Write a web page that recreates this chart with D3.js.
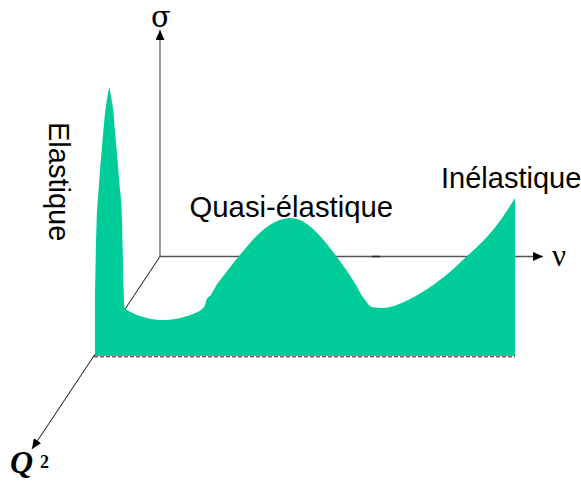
<!DOCTYPE html>
<html><head><meta charset="utf-8">
<script src="https://cdn.jsdelivr.net/npm/d3@7"></script>
<style>html,body{margin:0;padding:0;background:#fff;overflow:hidden}svg{display:block}text{font-family:"Liberation Sans",Arial,sans-serif;fill:#000}</style>
</head><body>
<script>
const nu = [0,0.4,0.8,1.2,1.6,2.4,3.0,3.4,3.8,4.4,4.8,5.3,5.8,6.4,6.6,6.8,7.0,9.0,12.4,16.2,20.2,23.3,25.5,26.2,26.6,27.6,28.8,30.2,34.5,40,44,46.4,48.8,52.9,57.6,61.4,64.3,65.9,68.6,70.2,75,80.5,84.5,88.6,93.3,97.1,100];
const sigma = [23.5,50.7,60.8,69.4,76.9,90.7,97,100,97,90.7,83.2,74.3,64.6,51.9,39.6,25.7,18.3,16.0,14.2,13.4,14.2,15.7,17.5,19.0,21.2,22.8,26.1,29.1,37.7,47,50.7,51.5,50.7,45.9,36.9,28.4,20.9,18.3,17.9,18.3,21.3,26.5,31.3,37.3,44.4,51.9,59];
const labels = ["Elastique","Quasi-élastique","Inélastique"];
const axisNames = ["σ","ν","Q","2"];

const W=581,H=481;
const x=d3.scaleLinear().domain([0,100]).range([95,515]);
const y=d3.scaleLinear().domain([0,100]).range([356,88]);
const svg=d3.select("body").append("svg").attr("width",W).attr("height",H);

const defs=svg.append("defs");
defs.append("marker").attr("id","arrow").attr("viewBox","0 0 10 9").attr("refX",10).attr("refY",4.5)
  .attr("markerUnits","userSpaceOnUse").attr("markerWidth",10).attr("markerHeight",9).attr("orient","auto")
  .append("path").attr("d","M0,0L10,4.5L0,9Z").attr("fill","#000");

// axes
const ox=160,oy=256.5;
svg.append("line").attr("x1",ox).attr("y1",oy).attr("x2",ox).attr("y2",30).attr("stroke","#666").attr("stroke-width",1.3).attr("marker-end","url(#arrow)");
svg.append("line").attr("x1",ox).attr("y1",oy).attr("x2",543).attr("y2",oy).attr("stroke","#555").attr("stroke-width",1.3).attr("marker-end","url(#arrow)");
svg.append("line").attr("x1",372).attr("y1",oy).attr("x2",380).attr("y2",oy).attr("stroke","#222").attr("stroke-width",1.6);
svg.append("line").attr("x1",ox).attr("y1",oy).attr("x2",32).attr("y2",449).attr("stroke","#111").attr("stroke-width",1).attr("marker-end","url(#arrow)");

// area
const area=d3.area().curve(d3.curveMonotoneX).x((d,i)=>x(nu[i])).y0(y(0)).y1(d=>y(d));
svg.append("path").datum(sigma).attr("d",area).attr("fill","#00CC99");

// dashed base
svg.append("line").attr("x1",x(0)-1).attr("x2",x(100)).attr("y1",356.8).attr("y2",356.8).attr("stroke","#222").attr("stroke-width",1).attr("stroke-dasharray","4 2");

// labels
svg.append("text").attr("transform","translate(48.5,122) rotate(90)").attr("font-size",29).text(labels[0]);
svg.append("text").attr("x",189.5).attr("y",217).attr("font-size",29.3).text(labels[1]);
svg.append("text").attr("x",441).attr("y",188).attr("font-size",29).text(labels[2]);
svg.append("text").attr("x",151).attr("y",27).attr("font-size",29).style("font-family","'DejaVu Serif',serif").text(axisNames[0]);
svg.append("text").attr("x",552).attr("y",266).attr("font-size",31).style("font-family","'Liberation Serif',serif").text(axisNames[1]);
svg.append("text").attr("x",10).attr("y",473).attr("font-size",32).attr("font-weight","bold").attr("font-style","italic").style("font-family","'Liberation Serif',serif").text(axisNames[2]);
svg.append("text").attr("x",40).attr("y",468).attr("font-size",18).attr("font-weight","bold").style("font-family","'Liberation Serif',serif").text(axisNames[3]);
</script>
</body></html>
